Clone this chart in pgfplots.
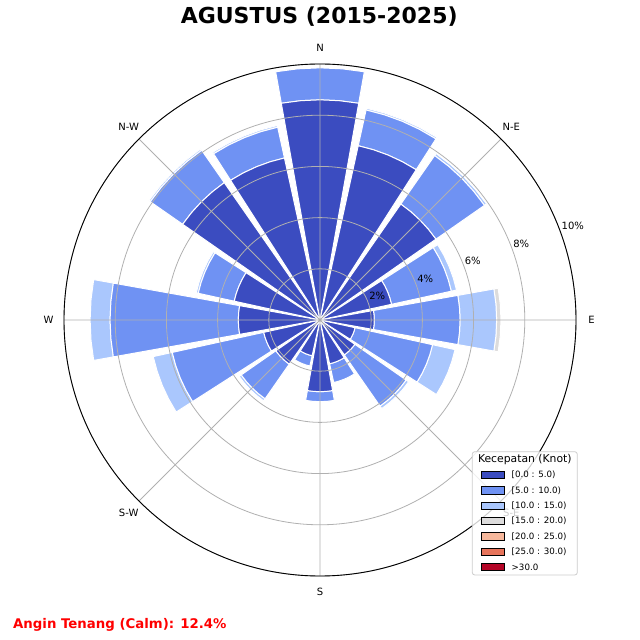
\documentclass[border=0pt]{standalone}
\usepackage{fontspec}
\setmainfont{DejaVu Sans}
\usepackage{pgfplots}
\pgfplotsset{compat=1.18}
\usepgfplotslibrary{polar}
\definecolor{c1}{HTML}{3B4CC0}
\definecolor{c2}{HTML}{6F92F3}
\definecolor{c3}{HTML}{AAC7FD}
\definecolor{c4}{HTML}{DDDCDC}
\definecolor{c5}{HTML}{F7B89C}
\definecolor{c6}{HTML}{E7745B}
\definecolor{c7}{HTML}{B40426}
\definecolor{gridgrey}{HTML}{B0B0B0}
\definecolor{legedge}{HTML}{CCCCCC}
% one stacked segment: compass angle, inner radius, outer radius, colour
\newcommand\seg[4]{%
  \pgfmathsetmacro\pA{90-#1+10.125}%
  \pgfmathsetmacro\pB{90-#1+5.0625}%
  \pgfmathsetmacro\pC{90-#1}%
  \pgfmathsetmacro\pD{90-#1-5.0625}%
  \pgfmathsetmacro\pE{90-#1-10.125}%
  \edef\doit{\noexpand\addplot[forget plot, fill=#4, draw=white, line width=1pt]
    coordinates {(\pA,#2) (\pA,#3) (\pB,#3) (\pC,#3) (\pD,#3) (\pE,#3)
                 (\pE,#2) (\pD,#2) (\pC,#2) (\pB,#2) (\pA,#2)} -- cycle;}%
  \doit}
% one direction: compass angle, then frequencies (%) of the bins 0-5, 5-10, 10-15, 15-20 knots
\newcommand\rose[5]{%
  \pgfmathsetmacro\ra{#2}%
  \pgfmathsetmacro\rb{#2+#3}%
  \pgfmathsetmacro\rc{#2+#3+#4}%
  \pgfmathsetmacro\rd{#2+#3+#4+#5}%
  \ifdim #5pt>0pt \seg{#1}{\rc}{\rd}{c4}\fi
  \ifdim #4pt>0pt \seg{#1}{\rb}{\rc}{c3}\fi
  \ifdim #3pt>0pt \seg{#1}{\ra}{\rb}{c2}\fi
  \ifdim #2pt>0pt \seg{#1}{0}{\ra}{c1}\fi}
\begin{document}
\begin{tikzpicture}
\useasboundingbox (0pt,0pt) rectangle (640pt,640pt);
\begin{polaraxis}[
  at={(320pt,320pt)}, anchor=center,
  width=512pt, height=512pt, scale only axis,
  xmin=0, xmax=360, ymin=0, ymax=10,
  xtick={0,45,...,315}, ytick={2,4,6,8,10},
  xticklabels={{},{},{},{},{},{},{},{}}, yticklabels={{},{},{},{},{}},
  major tick length=0pt,
  grid=major,
  major grid style={color=gridgrey, line width=0.8pt},
  axis line style={black, line width=0.9pt},
  y axis line style={draw=none},
  axis on top,
  clip=false,
]
\rose{0}{8.60}{1.25}{0}{0}
\rose{22.5}{6.97}{1.43}{0.07}{0}
\rose{45}{5.52}{2.31}{0.10}{0}
\rose{67.5}{2.86}{2.39}{0.21}{0}
\rose{90}{2.12}{3.35}{1.43}{0.17}
\rose{112.5}{1.40}{3.10}{0.90}{0}
\rose{135}{1.66}{2.44}{0.12}{0}
\rose{157.5}{1.75}{0.75}{0}{0}
\rose{180}{2.80}{0.39}{0}{0}
\rose{202.5}{1.43}{0.41}{0}{0}
\rose{225}{2.10}{1.65}{0.10}{0}
\rose{247.5}{2.25}{3.66}{0.76}{0}
\rose{270}{3.19}{5.01}{0.78}{0}
\rose{292.5}{3.43}{1.44}{0.08}{0}
\rose{315}{6.54}{1.54}{0.07}{0}
\rose{337.5}{6.48}{1.23}{0.07}{0}
\end{polaraxis}
% direction labels
\begin{scope}[every node/.style={font=\fontsize{10}{12}\selectfont, inner sep=0pt}]
\node at (320pt,592.5pt) {N};
\node at (511.3pt,512.8pt) {N-E};
\node at (591.5pt,320pt) {E};
\node at (511.3pt,127.2pt) {S-E};
\node at (320pt,48.5pt) {S};
\node at (128.7pt,127.2pt) {S-W};
\node at (48.5pt,320pt) {W};
\node at (128.7pt,512.8pt) {N-W};
\node at (377.2pt,343.8pt) {2\%};
\node at (425.3pt,360.8pt) {4\%};
\node at (472.8pt,379.2pt) {6\%};
\node at (521.3pt,395.8pt) {8\%};
\node at (572.8pt,413.8pt) {10\%};
\end{scope}
% title and calm note
\node[anchor=base, inner sep=0pt, font=\fontsize{22}{26}\selectfont\bfseries] at (319.2pt,616.7pt) {AGUSTUS (2015-2025)};
\node[anchor=base west, inner sep=0pt, text=red, font=\fontsize{13.3}{16}\selectfont\bfseries] at (13pt,11.7pt) {Angin Tenang (Calm): 12.4\%};
% legend
\draw[legedge, line width=0.8pt, rounded corners=2.5pt, fill=white, fill opacity=0.8] (472.3pt,65pt) rectangle (577.3pt,188.3pt);
\node[inner sep=0pt, font=\fontsize{10.8}{13}\selectfont] at (524.8pt,180pt) {Kecepatan (Knot)};
\foreach \c/\t [count=\i from 0] in {c1/{[0.0 : 5.0)}, c2/{[5.0 : 10.0)}, c3/{[10.0 : 15.0)}, c4/{[15.0 : 20.0)}, c5/{[20.0 : 25.0)}, c6/{[25.0 : 30.0)}, c7/{>30.0}}{
  \pgfmathsetmacro\yy{165-15.33*\i}
  \draw[fill=\c, draw=black, line width=0.8pt] (481.3pt,\yy pt-3.6pt) rectangle (504.3pt,\yy pt+3.6pt);
  \node[anchor=west, inner sep=0pt, font=\fontsize{8.7}{10}\selectfont] at (511.5pt,\yy pt) {\t};
}
\end{tikzpicture}
\end{document}
